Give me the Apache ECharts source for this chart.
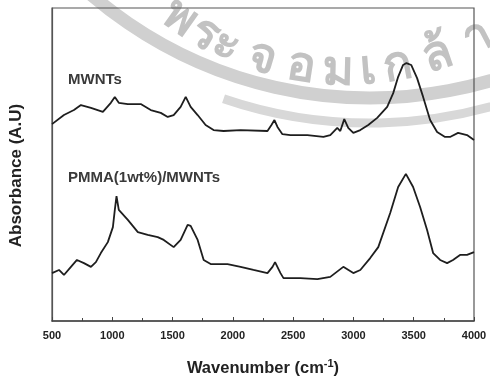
<!DOCTYPE html>
<html>
<head>
<meta charset="utf-8">
<script src="https://cdn.jsdelivr.net/npm/echarts@6/dist/echarts.min.js"></script>
<style>
  html, body { margin: 0; padding: 0; background: #fff; }
  #chart { width: 490px; height: 382px; }
</style>
</head>
<body>
<div id="chart"></div>
<script>
// FTIR spectra, absorbance in arbitrary units (0-100 scale)
const xTickValues = [500, 1000, 1500, 2000, 2500, 3000, 3500, 4000];

const mwntsWavenumber = [500, 599, 682, 740, 823, 922, 988, 1021, 1054, 1129, 1236, 1319, 1402, 1460, 1509,
  1567, 1609, 1650, 1708, 1774, 1840, 1923, 2064, 2287, 2320, 2345, 2370, 2411, 2477, 2618, 2751, 2808,
  2866, 2891, 2924, 2957, 2999, 3057, 3123, 3197, 3280, 3330, 3371, 3412, 3440, 3479, 3528, 3578, 3636,
  3694, 3760, 3801, 3868, 3942, 4000];
const mwntsAbsorbance = [62.9, 65.8, 67.4, 69.0, 68.1, 66.8, 69.7, 71.6, 69.7, 69.3, 69.3, 67.4, 66.5, 65.2, 65.8,
  68.4, 71.6, 68.4, 65.8, 62.6, 61.0, 60.7, 61.0, 60.7, 62.6, 64.2, 62.0, 59.7, 59.4, 59.4, 58.8, 59.4,
  61.7, 60.7, 64.5, 61.7, 60.1, 61.0, 62.6, 64.9, 68.4, 72.8, 78.0, 81.8, 82.4, 81.8, 77.6, 71.6, 64.2,
  60.4, 58.8, 58.8, 60.1, 59.4, 57.8];

const pmmaWavenumber = [500, 558, 599, 657, 707, 765, 823, 864, 905, 963, 1005, 1021, 1035, 1054, 1129, 1212,
  1294, 1377, 1427, 1509, 1567, 1625, 1650, 1708, 1758, 1816, 1956, 2064, 2171, 2287, 2329, 2350, 2395,
  2420, 2560, 2701, 2808, 2916, 2999, 3057, 3139, 3206, 3305, 3371, 3435, 3495, 3553, 3611, 3661, 3719,
  3777, 3826, 3884, 3942, 4000];
const pmmaAbsorbance = [15.3, 16.3, 14.7, 17.3, 19.5, 18.5, 17.3, 18.8, 21.7, 25.2, 30.0, 35.5, 39.9, 35.5, 32.3, 28.4,
  27.5, 26.8, 25.9, 23.6, 25.9, 30.7, 30.4, 25.9, 19.5, 18.2, 18.2, 17.3, 16.3, 15.3, 17.3, 18.8, 15.3,
  13.7, 13.7, 13.4, 14.1, 17.3, 15.3, 16.3, 20.1, 23.6, 34.5, 42.8, 47.0, 42.8, 36.4, 29.1, 21.7, 19.5,
  18.5, 19.5, 21.1, 21.1, 22.0];

const seriesNames = ['MWNTs', 'PMMA(1wt%)/MWNTs'];
const watermarkChars = ['พ', 'ร', 'ะ', 'จ', 'อ', 'ม', 'เ', 'ก', 'ล้', 'า'];
const watermarkCharX = [180, 205, 226, 262, 301, 338, 368, 398, 437, 478];

const pairs = (xs, ys) => xs.map((x, i) => [x, ys[i]]);
const fontFamily = '"Liberation Sans", Arial, Helvetica, sans-serif';

const chart = echarts.init(document.getElementById('chart'), null, { renderer: 'canvas' });

// faint emblem rings and lettering behind the plot
const ringCx = 370, ringCy = -330;
const watermark = [
  { type: 'arc', silent: true, z: -10, shape: { cx: ringCx, cy: ringCy, r: 428, startAngle: 0.6, endAngle: 2.6 },
    style: { stroke: '#d0d0d0', lineWidth: 13, fill: null } },
  { type: 'arc', silent: true, z: -10, shape: { cx: ringCx, cy: ringCy, r: 453, startAngle: 1.2, endAngle: 1.9 },
    style: { stroke: '#d8d8d8', lineWidth: 9, fill: null } }
];
const textCx = 345, textCy = -215, textR = 286;
watermarkChars.forEach((ch, i) => {
  const x = watermarkCharX[i];
  const dx = x - textCx;
  const ang = Math.asin(dx / textR);
  const y = textCy + Math.sqrt(textR * textR - dx * dx);
  watermark.push({
    type: 'text', silent: true, z: -10, x: x, y: y, rotation: ang,
    style: { text: ch, fill: '#c2c2c2', font: 'bold 48px sans-serif', align: 'center', verticalAlign: 'middle' }
  });
});

chart.setOption({
  animation: false,
  backgroundColor: '#fff',
  grid: { left: 51, right: 16, top: 8, bottom: 61, show: true, borderColor: '#555', borderWidth: 1.2, backgroundColor: 'transparent' },
  xAxis: {
    type: 'value', min: 500, max: 4000, interval: 500,
    axisLine: { show: true, lineStyle: { color: '#444', width: 1.5 } },
    axisTick: { show: true, inside: true, length: 4, lineStyle: { color: '#444', width: 1 } },
    minorTick: { show: true, splitNumber: 2, length: 3, lineStyle: { color: '#444', width: 1 } },
    splitLine: { show: false },
    axisLabel: { color: '#222', fontSize: 11, fontWeight: 'bold', fontFamily: fontFamily, margin: 9,
      customValues: xTickValues, formatter: v => String(v) },
    name: 'Wavenumber (cm{sup|-1})',
    nameLocation: 'middle', nameGap: 37,
    nameTextStyle: { color: '#222', fontSize: 16.5, fontWeight: 'bold', fontFamily: fontFamily,
      rich: { sup: { fontSize: 11, fontWeight: 'bold', fontFamily: fontFamily, padding: [0, 0, 9, 0] } } }
  },
  yAxis: {
    type: 'value', min: 0, max: 100,
    axisLine: { show: true, lineStyle: { color: '#555', width: 1.2 } },
    axisTick: { show: false }, axisLabel: { show: false }, splitLine: { show: false },
    name: 'Absorbance (A.U)', nameLocation: 'middle', nameGap: 27,
    nameTextStyle: { color: '#222', fontSize: 17, fontWeight: 'bold', fontFamily: fontFamily, padding: [0, 22, 0, 0] }
  },
  graphic: watermark.concat([
    { type: 'text', left: 68, top: 72, z: 5, style: { text: seriesNames[0], fill: '#3a3a3a', font: 'bold 15px ' + fontFamily } },
    { type: 'text', left: 68, top: 170, z: 5, style: { text: seriesNames[1], fill: '#3a3a3a', font: 'bold 15px ' + fontFamily } }
  ]),
  series: [
    { name: seriesNames[0], type: 'line', data: pairs(mwntsWavenumber, mwntsAbsorbance), showSymbol: false,
      lineStyle: { color: '#1e1e1e', width: 1.8 }, z: 3 },
    { name: seriesNames[1], type: 'line', data: pairs(pmmaWavenumber, pmmaAbsorbance), showSymbol: false,
      lineStyle: { color: '#1e1e1e', width: 1.8 }, z: 3 }
  ]
});
</script>
</body>
</html>
